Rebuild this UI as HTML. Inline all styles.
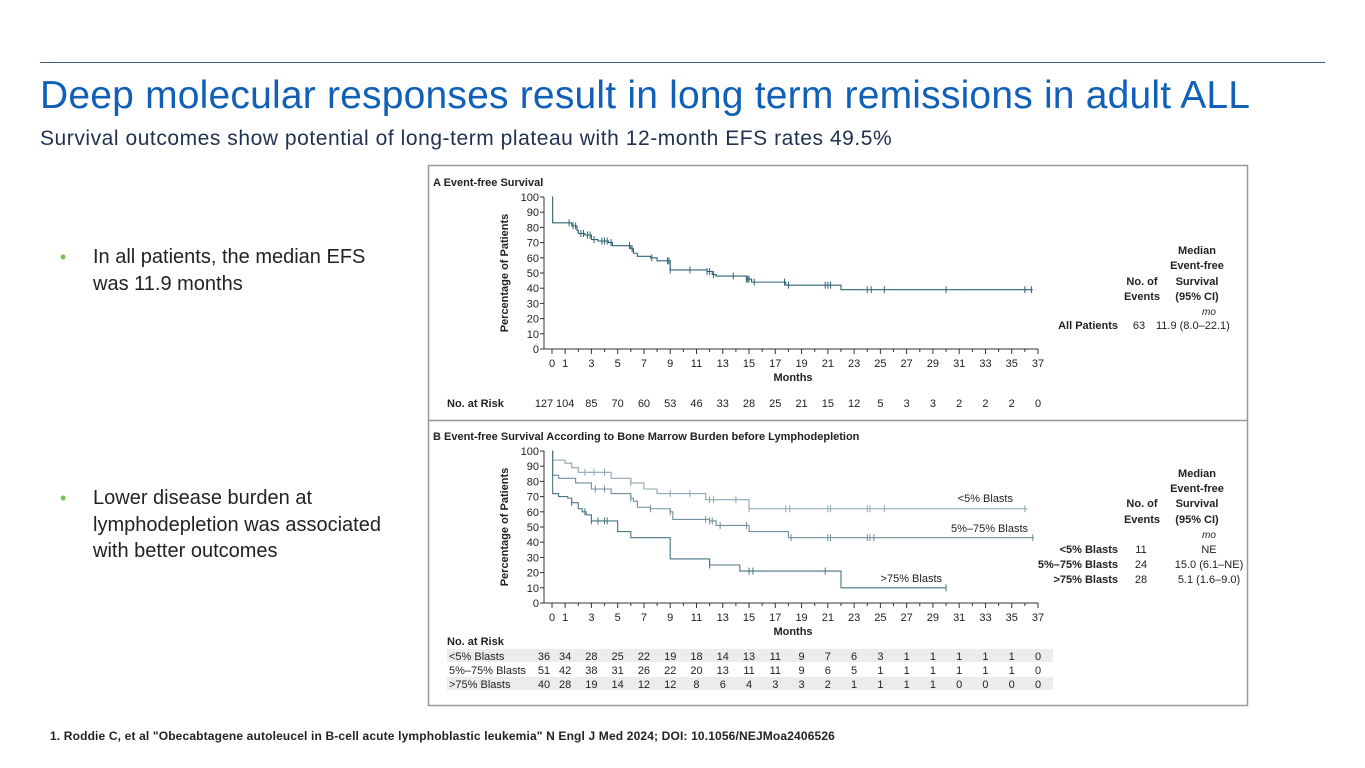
<!DOCTYPE html>
<html><head><meta charset="utf-8">
<style>
html,body{margin:0;padding:0;background:#fff;}
body{width:1365px;height:768px;position:relative;overflow:hidden;font-family:"Liberation Sans",sans-serif;}
.abs{position:absolute;white-space:nowrap;}
#title{left:40px;top:74px;font-size:39px;color:#1060b8;letter-spacing:0.2px;}
#subtitle{left:40px;top:127px;font-size:21px;color:#1f3050;letter-spacing:0.55px;}
.bullet{left:60px;font-size:20px;color:#222;line-height:26.5px;}
.bullet .dot{position:absolute;left:0;top:0;color:#7ac143;font-size:18px;}
.bullet .txt{position:absolute;left:33px;top:0;}
#foot{left:50px;top:729px;font-size:12px;font-weight:bold;color:#222;letter-spacing:0.15px;}
svg text{font-family:"Liberation Sans",sans-serif;fill:#222;}
</style></head><body>
<div class="abs" style="left:40px;top:62px;width:1285px;height:1px;background:#3a5a7a;"></div>
<div class="abs" id="title">Deep molecular responses result in long term remissions in adult ALL</div>
<div class="abs" id="subtitle">Survival outcomes show potential of long-term plateau with 12-month EFS rates 49.5%</div>
<div class="abs bullet" style="top:244px;"><span class="dot">•</span><span class="txt">In all patients, the median EFS<br>was 11.9 months</span></div>
<div class="abs bullet" style="top:485px;"><span class="dot">•</span><span class="txt">Lower disease burden at<br>lymphodepletion was associated<br>with better outcomes</span></div>
<div class="abs" id="foot">1. Roddie C, et al "Obecabtagene autoleucel in B-cell acute lymphoblastic leukemia" N Engl J Med 2024; DOI: 10.1056/NEJMoa2406526</div>

<svg id="chart" width="1365" height="768" style="position:absolute;left:0;top:0;">
<rect x="428.5" y="165.5" width="819" height="540" fill="none" stroke="#999" stroke-width="1.5"/>
<line x1="428" y1="420.5" x2="1247" y2="420.5" stroke="#999" stroke-width="1.5"/>
<g id="gA"></g><g id="gB"></g>
</svg>

<script>
// Panel A data
const stepsA_t = [0,0.05,1.5,1.9,2.0,2.5,3.0,3.5,4.3,4.6,6.0,6.2,6.5,7.5,8.0,9.0,11.8,12.2,12.5,14.8,15.2,17.8,22.0,36.6];
const stepsA_v = [100,83,81,78,76,75,72,71,70,68,66,63,61,60,58,52,51,49,48,46,44,42,39,39];
const censA = [1.3,1.6,1.8,2.2,2.4,2.7,2.9,3.2,3.8,4.0,4.2,4.5,5.9,6.1,7.6,8.8,8.9,9.0,10.5,11.8,12.0,12.3,13.8,14.8,14.9,15.0,15.4,17.7,18.0,20.8,21.0,21.2,24.0,24.3,25.3,30.0,36.0,36.5];
const riskA = [127,104,85,70,60,53,46,33,28,25,21,15,12,5,3,3,2,2,2,0];
// Panel B data
const lowT = [0,0.05,1.0,1.5,2.0,4.5,6.0,7.0,8.0,11.7,15.0,36.2];
const lowV = [100,94,92,89,86,82,79,75,72,68,62,62];
const lowC = [2.5,3.2,4.0,6.0,9.0,10.5,12.0,12.3,14.0,15.0,17.8,18.1,21.0,21.2,24.0,24.2,25.3,36.0];
const midT = [0,0.05,0.5,1.8,3.0,4.5,6.0,6.2,6.5,7.5,9.0,9.2,12.0,12.5,15.0,18.0,36.7];
const midV = [100,84,82,79,75,72,69,67,63,62,60,55,54,51,47,43,43];
const midC = [3.3,4.0,6.0,7.5,9.0,11.7,12.0,12.2,12.8,14.8,18.2,21.0,21.2,24.0,24.2,24.5,36.6];
const hiT = [0,0.05,0.5,1.2,1.5,2.0,2.3,2.6,3.0,5.0,6.0,9.0,12.0,14.3,22.0,30.0];
const hiV = [100,72,70,69,66,62,60,58,54,47,43,29,25,21,10,10];
const hiC = [1.5,2.5,3.0,3.5,4.0,4.2,12.0,15.0,15.3,20.8,30.0];
const riskLow = [36,34,28,25,22,19,18,14,13,11,9,7,6,3,1,1,1,1,1,0];
const riskMid = [51,42,38,31,26,22,20,13,11,11,9,6,5,1,1,1,1,1,1,0];
const riskHi = [40,28,19,14,12,12,8,6,4,3,3,2,1,1,1,1,0,0,0,0];
const xTicks = [0,1,3,5,7,9,11,13,15,17,19,21,23,25,27,29,31,33,35,37];
const yTicks = [0,10,20,30,40,50,60,70,80,90,100];

const NS="http://www.w3.org/2000/svg";
const X0=552, X1=1038;
const xs = m => X0 + (X1-X0)*m/37;
function mk(parent,tag,attrs,text){const e=document.createElementNS(NS,tag);for(const k in attrs)e.setAttribute(k,attrs[k]);if(text!==undefined)e.textContent=text;parent.appendChild(e);return e;}

function axes(g, yTop, yBot){
  const ys = v => yBot - (yBot-yTop)*v/100;
  const ax = mk(g,'path',{d:`M${X0-8},${yTop} V${yBot} H${X1}`,fill:'none',stroke:'#333','stroke-width':1});
  
  
  for(const v of yTicks){
    mk(g,'line',{x1:X0-12,x2:X0-8,y1:ys(v),y2:ys(v),stroke:'#333'});
    const t=mk(g,'text',{x:X0-13,y:ys(v)+4,'font-size':11,'text-anchor':'end'},v);
    
    
  }
  for(let m=0;m<=37;m++) mk(g,'line',{x1:xs(m),x2:xs(m),y1:yBot,y2:yBot+(m%2===1||m===0?5:3),stroke:'#333'});
  for(const m of xTicks){
    const t=mk(g,'text',{x:xs(m),y:yBot+18,'font-size':11,'text-anchor':'middle'},m);
    
    
  }
  const yt=mk(g,'text',{x:0,y:0,'font-size':11,'font-weight':'bold','text-anchor':'middle',transform:`translate(${X0-44},${(yTop+yBot)/2}) rotate(-90)`},'Percentage of Patients');
  
  
  const xt=mk(g,'text',{x:793,y:yBot+32,'font-size':11,'font-weight':'bold','text-anchor':'middle'},'Months');
  
  
  return ys;
}
function curve(g, ys, T, V, C, color, name){
  let d=`M${xs(T[0])},${ys(V[0])}`;
  for(let i=1;i<T.length;i++){d+=` H${xs(T[i])} V${ys(V[i])}`;}
  const p=mk(g,'path',{d:d,fill:'none',stroke:color,'stroke-width':1.1});
  
  
  for(const c of C){
    let v=V[0];for(let i=0;i<T.length;i++){if(T[i]<=c)v=V[i];}
    const m=mk(g,'line',{x1:xs(c),x2:xs(c),y1:ys(v)-3.5,y2:ys(v)+3.5,stroke:color,'stroke-width':1});
    
    
  }
}
function riskRow(g, arr, y, name){
  arr.forEach((v,i)=>{
    const x = i===0 ? xs(0)-8 : xs(xTicks[i]);
    const t=mk(g,'text',{x:x,y:y,'font-size':11,'text-anchor':'middle'},v);
    
    
  });
}

// Panel A
const gA=document.getElementById('gA');
mk(gA,'text',{x:433,y:186,'font-size':11,'font-weight':'bold'},'A  Event-free Survival');
const ysA=axes(gA,197,349);
curve(gA,ysA,stepsA_t,stepsA_v,censA,'#2f6474','all-patients');
mk(gA,'text',{x:447,y:407,'font-size':11,'font-weight':'bold'},'No. at Risk');
riskRow(gA,riskA,407,'risk-count-all');
[['Median',1197,254],['Event-free',1197,269],['Survival',1197,285],['(95% CI)',1197,300]].forEach(a=>mk(gA,'text',{x:a[1],y:a[2],'font-size':11,'font-weight':'bold','text-anchor':'middle'},a[0]));
mk(gA,'text',{x:1142,y:285,'font-size':11,'font-weight':'bold','text-anchor':'middle'},'No. of');
mk(gA,'text',{x:1142,y:300,'font-size':11,'font-weight':'bold','text-anchor':'middle'},'Events');
mk(gA,'text',{x:1209,y:315,'font-size':10,'font-style':'italic','text-anchor':'middle'},'mo');
mk(gA,'text',{x:1118,y:329,'font-size':11,'font-weight':'bold','text-anchor':'end'},'All Patients');
mk(gA,'text',{x:1139,y:329,'font-size':11,'text-anchor':'middle'},'63');
mk(gA,'text',{x:1156,y:329,'font-size':11},'11.9 (8.0–22.1)');

// Panel B
const gB=document.getElementById('gB');
mk(gB,'text',{x:433,y:440,'font-size':11,'font-weight':'bold'},'B  Event-free Survival According to Bone Marrow Burden before Lymphodepletion');
const ysB=axes(gB,451,603);
curve(gB,ysB,lowT,lowV,lowC,'#8aa6b0','blasts-lt5');
curve(gB,ysB,midT,midV,midC,'#6f909c','blasts-5-75');
curve(gB,ysB,hiT,hiV,hiC,'#4a7584','blasts-gt75');
mk(gB,'text',{x:1013,y:502,'font-size':11,'text-anchor':'end'},'<5% Blasts');
mk(gB,'text',{x:1028,y:532,'font-size':11,'text-anchor':'end'},'5%–75% Blasts');
mk(gB,'text',{x:942,y:582,'font-size':11,'text-anchor':'end'},'>75% Blasts');
[['Median',1197,477],['Event-free',1197,492],['Survival',1197,507],['(95% CI)',1197,523]].forEach(a=>mk(gB,'text',{x:a[1],y:a[2],'font-size':11,'font-weight':'bold','text-anchor':'middle'},a[0]));
mk(gB,'text',{x:1142,y:507,'font-size':11,'font-weight':'bold','text-anchor':'middle'},'No. of');
mk(gB,'text',{x:1142,y:523,'font-size':11,'font-weight':'bold','text-anchor':'middle'},'Events');
mk(gB,'text',{x:1209,y:538,'font-size':10,'font-style':'italic','text-anchor':'middle'},'mo');
[['<5% Blasts','11','NE',553],['5%–75% Blasts','24','15.0 (6.1–NE)',568],['>75% Blasts','28','5.1 (1.6–9.0)',583]].forEach(r=>{
  mk(gB,'text',{x:1118,y:r[3],'font-size':11,'font-weight':'bold','text-anchor':'end'},r[0]);
  mk(gB,'text',{x:1141,y:r[3],'font-size':11,'text-anchor':'middle'},r[1]);
  mk(gB,'text',{x:1209,y:r[3],'font-size':11,'text-anchor':'middle'},r[2]);
});
mk(gB,'text',{x:447,y:645,'font-size':11,'font-weight':'bold'},'No. at Risk');
mk(gB,'rect',{x:447,y:649,width:606,height:13,fill:'#ececec'});
mk(gB,'rect',{x:447,y:677,width:606,height:13,fill:'#ececec'});
mk(gB,'text',{x:449,y:660,'font-size':11},'<5% Blasts');
mk(gB,'text',{x:449,y:674,'font-size':11},'5%–75% Blasts');
mk(gB,'text',{x:449,y:688,'font-size':11},'>75% Blasts');
riskRow(gB,riskLow,660,'risk-count-lt5');
riskRow(gB,riskMid,674,'risk-count-5-75');
riskRow(gB,riskHi,688,'risk-count-gt75');
</script>
</body></html>
